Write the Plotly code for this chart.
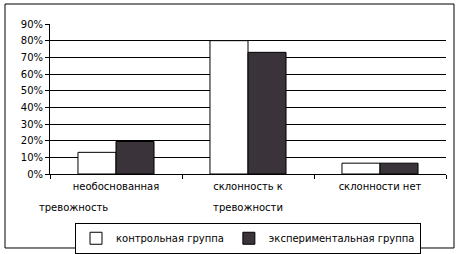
import plotly.graph_objects as go

categories = ["необоснованная тревожность", "склонность к тревожности", "склонности нет"]
label_line1 = ["необоснованная", "склонность к", "склонности нет"]
label_line2 = ["тревожность", "тревожности", ""]
control = [0.13, 0.80, 0.065]
experimental = [0.195, 0.73, 0.065]
series_names = ["контрольная группа", "экспериментальная группа"]
y_ticks = [0, 0.1, 0.2, 0.3, 0.4, 0.5, 0.6, 0.7, 0.8, 0.9]
grid_ticks = [0.1, 0.2, 0.3, 0.4, 0.5, 0.6, 0.7, 0.8]

FONT = dict(family="DejaVu Sans", size=10, color="black")

fig = go.Figure()
# carrier for the underlying axes (gridlines + second label line); draws nothing
fig.add_trace(go.Scatter(x=categories, y=[None] * len(categories), xaxis="x", yaxis="y",
                         mode="markers", showlegend=False, hoverinfo="skip"))
fig.add_trace(go.Bar(x=categories, y=control, name=series_names[0], xaxis="x2", yaxis="y2",
                     marker=dict(color="white", line=dict(color="black", width=1))))
fig.add_trace(go.Bar(x=categories, y=experimental, name=series_names[1], xaxis="x2", yaxis="y2",
                     marker=dict(color="#3a3339", line=dict(color="black", width=1))))

fig.update_layout(
    width=460, height=254,
    margin=dict(l=50, r=14, t=24, b=80, autoexpand=False),
    paper_bgcolor="white", plot_bgcolor="white",
    font=FONT,
    barmode="group", bargap=0.424, bargroupgap=0,
    showlegend=True,
    legend=dict(orientation="h", x=0.5, xanchor="center", y=-0.325, yanchor="top",
                bordercolor="black", borderwidth=1, bgcolor="white",
                font=FONT, itemwidth=30),
    xaxis=dict(type="category", categoryarray=categories, tickvals=categories,
               ticktext=label_line2, showline=False, showgrid=False, zeroline=False,
               ticks="", ticklabelstandoff=26),
    yaxis=dict(range=[0, 0.9], tickvals=grid_ticks, showticklabels=False,
               showgrid=True, gridcolor="black", gridwidth=1, zeroline=False,
               showline=False, ticks=""),
    xaxis2=dict(type="category", categoryarray=categories, overlaying="x", anchor="y2",
                side="bottom", tickvals=categories, ticktext=label_line1,
                showline=True, linecolor="black", linewidth=1,
                ticks="outside", tickson="boundaries", ticklen=4, tickcolor="black",
                showgrid=False, zeroline=False, ticklabelstandoff=3),
    yaxis2=dict(overlaying="y", anchor="x2", side="left", range=[0, 0.9],
                tickvals=y_ticks, tickformat=".0%",
                showline=True, linecolor="black", linewidth=1,
                ticks="outside", ticklen=4, tickcolor="black",
                showgrid=False, zeroline=False),
    shapes=[dict(type="rect", xref="paper", yref="paper",
                 x0=-0.1136, x1=1.0202, y0=-0.4933, y1=1.1333,
                 line=dict(color="black", width=1), layer="below")],
)
fig.write_html("out.html")
